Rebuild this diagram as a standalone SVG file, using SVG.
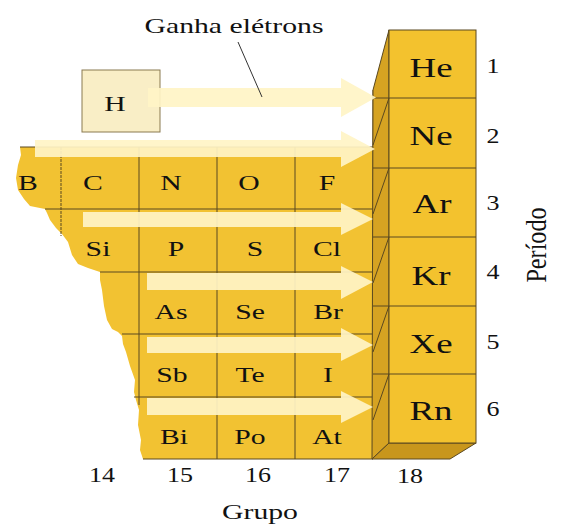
<svg xmlns="http://www.w3.org/2000/svg" width="577" height="525" viewBox="0 0 577 525">
<style>
text{font-family:"Liberation Serif","Times New Roman",serif;fill:#111111;text-anchor:middle}
.el{font-size:22px}
.ng{font-size:28px}
.num{font-size:20px}
.lbl{font-size:22px}
.grid{stroke:#5a4820;stroke-width:1;fill:none}
.arrow{fill:#FFF4C6;opacity:0.92}
.ylw{fill:#F2C232}
</style>
<rect width="577" height="525" fill="#ffffff"/>

<g id="table-main">
<path class="ylw" d="M20,147 L373,147 L373,459 L143,459 L140,450 L141,440 L138,425 L139,410 L136,400 L134,392 L135,380 L130,366 L126,352 L123,344 L122,336 L118,332 L112,329 L107,320 L104,306 L102,290 L100,280 L100,272 L88,268 L78,264 L72,255 L68,242 L62,234 L56,228 L50,220 L47,213 L45,209 L30,206 L24,199 L18,190 L16,178 L18,165 L21,155 Z"/>
<g class="grid">
<line x1="20" y1="147" x2="373" y2="147"/>
<line x1="45" y1="209" x2="373" y2="209"/>
<line x1="100" y1="272" x2="373" y2="272"/>
<line x1="122" y1="334" x2="373" y2="334"/>
<line x1="134" y1="397" x2="373" y2="397"/>
<line x1="143" y1="459" x2="373" y2="459"/>
<line x1="61" y1="147" x2="61" y2="236" stroke-dasharray="3,1"/>
<line x1="139" y1="147" x2="139" y2="405"/>
<line x1="217" y1="147" x2="217" y2="459"/>
<line x1="295" y1="147" x2="295" y2="459"/>
<line x1="373" y1="90" x2="373" y2="459"/>
</g>
</g>

<g id="noble-column">
<polygon points="389,30 389,443 372,459 373,90" fill="#D6A322" stroke="#5a4820" stroke-width="1"/>
<polygon points="389,443 476,443 450,459 372,459" fill="#C8961C" stroke="#5a4820" stroke-width="1"/>
<rect x="389" y="30" width="87" height="413" fill="#F3C22E" stroke="#5a4820" stroke-width="1"/>
<g class="grid">
<line x1="373" y1="98" x2="476" y2="98"/>
<line x1="373" y1="168" x2="476" y2="168"/>
<line x1="373" y1="237" x2="476" y2="237"/>
<line x1="373" y1="306" x2="476" y2="306"/>
<line x1="373" y1="374" x2="476" y2="374"/>
<line x1="389" y1="98" x2="373" y2="145"/>
<line x1="389" y1="168" x2="373" y2="214"/>
<line x1="389" y1="237" x2="373" y2="283"/>
<line x1="389" y1="306" x2="373" y2="352"/>
<line x1="389" y1="374" x2="373" y2="420"/>
</g>
</g>

<g id="H">
<rect x="82" y="70" width="78" height="62" fill="#F9EEC6" stroke="#8a7a50" stroke-width="1"/>
<text class="el" transform="translate(115,111) scale(1.35,1)">H</text>
</g>

<g id="connectors">
<polygon class="arrow" points="148,88 341,88 341,78 376,97.5 341,117 341,107 148,107"/>
<polygon class="arrow" points="35,140 341,140 341,131 375,149 341,167 341,157 35,157"/>
<polygon class="arrow" points="83,212 341,212 341,203 373,219 341,235 341,227 83,227"/>
<polygon class="arrow" points="147,273 341,273 341,266 373,282 341,299 341,290 147,290"/>
<polygon class="arrow" points="147,337 341,337 341,328 373,345 341,361 341,353 147,353"/>
<polygon class="arrow" points="147,398 341,398 341,391 373,407 341,423 341,415 147,415"/>
<line x1="238" y1="42" x2="262" y2="97" stroke="#333" stroke-width="1"/>
</g>

<g id="label-ganha">
<text class="lbl" transform="translate(234,33) scale(1.35,1)">Ganha elétrons</text>
</g>

<g id="elements">
<text class="el" transform="translate(28,190) scale(1.35,1)">B</text>
<text class="el" transform="translate(93,190) scale(1.35,1)">C</text>
<text class="el" transform="translate(171,190) scale(1.35,1)">N</text>
<text class="el" transform="translate(249,190) scale(1.35,1)">O</text>
<text class="el" transform="translate(327,190) scale(1.35,1)">F</text>
<text class="el" transform="translate(98,256) scale(1.35,1)">Si</text>
<text class="el" transform="translate(176,256) scale(1.35,1)">P</text>
<text class="el" transform="translate(255,256) scale(1.35,1)">S</text>
<text class="el" transform="translate(327,256) scale(1.35,1)">Cl</text>
<text class="el" transform="translate(171,319) scale(1.35,1)">As</text>
<text class="el" transform="translate(250,319) scale(1.35,1)">Se</text>
<text class="el" transform="translate(328,319) scale(1.35,1)">Br</text>
<text class="el" transform="translate(172,382) scale(1.35,1)">Sb</text>
<text class="el" transform="translate(250,382) scale(1.35,1)">Te</text>
<text class="el" transform="translate(328,382) scale(1.35,1)">I</text>
<text class="el" transform="translate(174,444) scale(1.35,1)">Bi</text>
<text class="el" transform="translate(250,444) scale(1.35,1)">Po</text>
<text class="el" transform="translate(327,444) scale(1.35,1)">At</text>
</g>

<g id="noble-labels">
<text class="ng" transform="translate(431,77) scale(1.32,1)">He</text>
<text class="ng" transform="translate(431,145) scale(1.32,1)">Ne</text>
<text class="ng" transform="translate(432,213) scale(1.32,1)">Ar</text>
<text class="ng" transform="translate(431,285) scale(1.32,1)">Kr</text>
<text class="ng" transform="translate(431,353) scale(1.32,1)">Xe</text>
<text class="ng" transform="translate(431,420) scale(1.32,1)">Rn</text>
</g>

<g id="periods">
<text class="num" transform="translate(493,73) scale(1.3,1)">1</text>
<text class="num" transform="translate(493,143) scale(1.3,1)">2</text>
<text class="num" transform="translate(493,210) scale(1.3,1)">3</text>
<text class="num" transform="translate(493,279) scale(1.3,1)">4</text>
<text class="num" transform="translate(493,349) scale(1.3,1)">5</text>
<text class="num" transform="translate(493,416) scale(1.3,1)">6</text>
<text class="lbl" transform="translate(546,245) rotate(-90) scale(1.1,1.3)">Período</text>
</g>

<g id="groups">
<text class="num" transform="translate(102,482) scale(1.3,1)">14</text>
<text class="num" transform="translate(180,482) scale(1.3,1)">15</text>
<text class="num" transform="translate(258,482) scale(1.3,1)">16</text>
<text class="num" transform="translate(337,482) scale(1.3,1)">17</text>
<text class="num" transform="translate(410,483) scale(1.3,1)">18</text>
<text class="lbl" transform="translate(260,519) scale(1.35,1)">Grupo</text>
</g>
</svg>
